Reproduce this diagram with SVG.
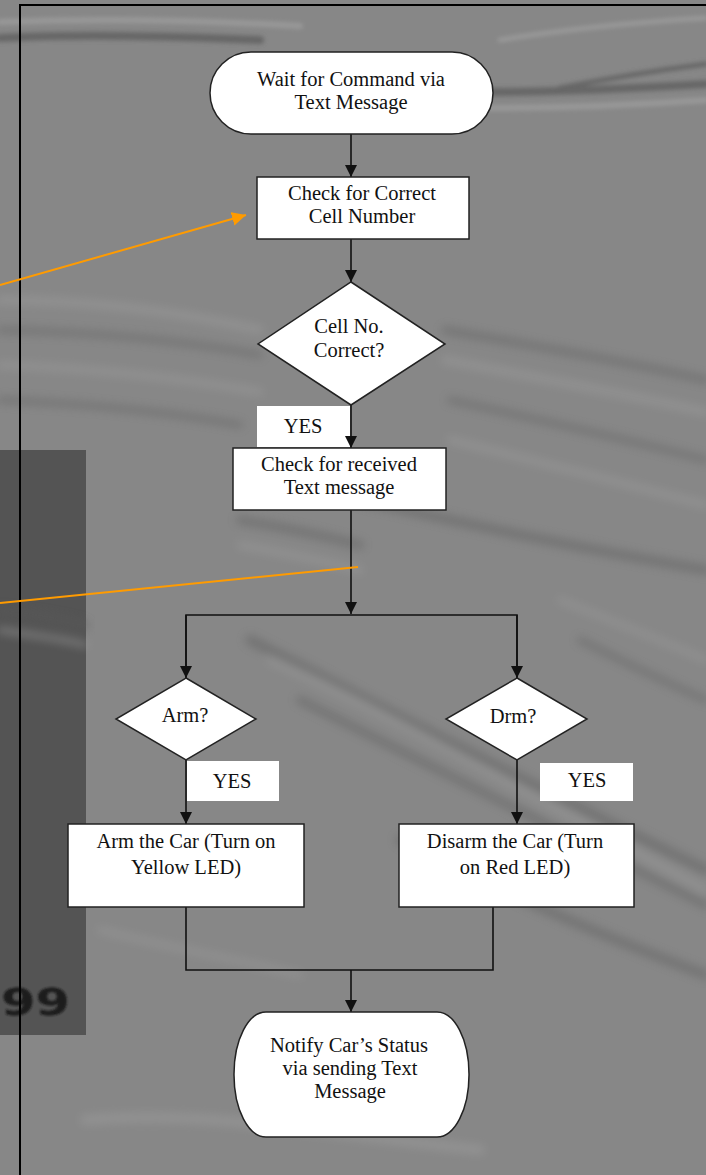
<svg xmlns="http://www.w3.org/2000/svg" width="706" height="1175" viewBox="0 0 706 1175">
<defs>
<style>
.node{fill:#fff;stroke:#222;stroke-width:1.5}
.lbl{fill:#fff;stroke:none}
.t{font-family:"Liberation Serif","Times New Roman",serif;font-size:20.5px;fill:#111;text-anchor:middle}
.c{fill:none;stroke:#111;stroke-width:1.6}
.o{fill:none;stroke:#FF9B00;stroke-width:2}
.sd{fill:none;stroke:#5a5a5a;stroke-linecap:round}
.sl{fill:none;stroke:#a0a0a0;stroke-linecap:round}
</style>
<marker id="ah" viewBox="0 0 10 10" refX="10" refY="5" markerWidth="12" markerHeight="12" markerUnits="userSpaceOnUse" orient="auto">
<path d="M0,0 L10,5 L0,10 z" fill="#111"/>
</marker>
<marker id="oh" viewBox="0 0 10 10" refX="10" refY="5" markerWidth="14" markerHeight="14" markerUnits="userSpaceOnUse" orient="auto">
<path d="M0,0 L10,5 L0,10 z" fill="#FF9B00"/>
</marker>
<filter id="b4" x="-10%" y="-50%" width="120%" height="200%"><feGaussianBlur stdDeviation="5"/></filter>
<filter id="b2" x="-10%" y="-50%" width="120%" height="200%"><feGaussianBlur stdDeviation="2"/></filter>
<filter id="b1"><feGaussianBlur stdDeviation="1"/></filter>
</defs>

<g id="background">
<rect x="0" y="0" width="706" height="1175" fill="#878787"/>
<g filter="url(#b2)" opacity="0.7">
<path class="sd" stroke-width="8" d="M0,38 C80,34 160,36 260,40"/>
<path class="sl" stroke-width="6" d="M0,22 C100,18 200,20 300,26"/>
<path class="sd" stroke-width="8" d="M490,92 C560,92 640,88 706,84"/>
<path class="sd" stroke-width="5" d="M560,88 C610,78 660,70 706,64"/>
<path class="sl" stroke-width="6" d="M490,108 C580,108 650,104 706,100"/>
<path class="sl" stroke-width="5" d="M500,40 C560,30 640,22 706,18"/>
</g>
<g filter="url(#b4)" opacity="0.45">
<path class="sl" stroke-width="8" d="M0,300 C80,300 170,310 260,330"/>
<path class="sd" stroke-width="6" d="M0,330 C90,332 180,340 260,355"/>
<path class="sl" stroke-width="7" d="M0,365 C90,368 180,378 260,392"/>
<path class="sd" stroke-width="6" d="M0,400 C90,404 170,412 240,425"/>
<path class="sd" stroke-width="7" d="M445,330 C530,345 620,360 706,380"/>
<path class="sl" stroke-width="8" d="M445,360 C540,378 630,395 706,412"/>
<path class="sd" stroke-width="6" d="M450,400 C540,420 630,440 706,460"/>
<path class="sl" stroke-width="7" d="M450,440 C540,462 630,485 706,505"/>
<path class="sd" stroke-width="9" d="M360,500 C450,520 560,545 706,570"/>
<path class="sd" stroke-width="8" d="M240,520 C300,530 340,540 360,545"/>
<path class="sl" stroke-width="7" d="M240,545 C300,556 340,565 360,570"/>
<path class="sd" stroke-width="10" d="M250,640 C350,690 480,760 706,870"/>
<path class="sl" stroke-width="7" d="M270,660 C380,710 500,780 706,890"/>
<path class="sd" stroke-width="8" d="M300,700 C400,750 520,810 706,905"/>
<path class="sl" stroke-width="6" d="M560,600 C610,620 660,640 706,660"/>
<path class="sd" stroke-width="6" d="M580,640 C620,660 660,680 706,700"/>
<path class="sd" stroke-width="9" d="M400,840 C480,880 560,920 706,975"/>
<path class="sl" stroke-width="6" d="M100,930 C180,950 240,960 300,975"/>
<path class="sl" stroke-width="10" d="M85,1120 C200,1110 300,1130 480,1150"/>
</g>
<rect x="0" y="450" width="86" height="585" fill="#545454"/>
<g filter="url(#b4)" opacity="0.6">
<path class="sd" stroke="#3a3a3a" stroke-width="6" d="M0,610 C40,615 70,620 86,625"/>
<path class="sl" stroke="#6a6a6a" stroke-width="5" d="M0,630 C40,636 70,640 86,645"/>
</g>
<text x="1" y="1015" font-family="DejaVu Sans" font-weight="bold" font-size="37" fill="#1a1a1a" filter="url(#b1)" textLength="69" lengthAdjust="spacingAndGlyphs">99</text>
<line x1="20" y1="5" x2="20" y2="1175" stroke="#000" stroke-width="2"/>
<line x1="19" y1="5" x2="706" y2="5" stroke="#000" stroke-width="2"/>
</g>

<g id="l-yes1">
<rect class="lbl" x="257" y="406" width="93" height="41"/>
<text class="t" x="303" y="433">YES</text>
</g>

<g id="l-yes2">
<rect class="lbl" x="187" y="761" width="92" height="40"/>
<text class="t" x="232" y="788">YES</text>
</g>

<g id="l-yes3">
<rect class="lbl" x="540" y="763" width="93" height="38"/>
<text class="t" x="587" y="787">YES</text>
</g>

<g id="connectors">
<line class="c" x1="351" y1="134" x2="351" y2="177" marker-end="url(#ah)"/>
<line class="c" x1="351" y1="239" x2="351" y2="282" marker-end="url(#ah)"/>
<line class="c" x1="351" y1="405" x2="351" y2="448" marker-end="url(#ah)"/>
<line class="c" x1="351" y1="510" x2="351" y2="614" marker-end="url(#ah)"/>
<polyline class="c" points="186,678 186,615 517,615 517,678"/>
<line class="c" x1="186" y1="615" x2="186" y2="678" marker-end="url(#ah)"/>
<line class="c" x1="517" y1="615" x2="517" y2="678" marker-end="url(#ah)"/>
<line class="c" x1="186" y1="760" x2="186" y2="824" marker-end="url(#ah)"/>
<line class="c" x1="517" y1="760" x2="517" y2="824" marker-end="url(#ah)"/>
<polyline class="c" points="186,907 186,970 493,970 493,907"/>
<line class="c" x1="351" y1="970" x2="351" y2="1012" marker-end="url(#ah)"/>
<line class="o" x1="0" y1="285" x2="246" y2="215" marker-end="url(#oh)"/>
<line class="o" x1="0" y1="603" x2="358" y2="567"/>
</g>

<g id="n-wait">
<rect class="node" x="210" y="52" width="283" height="82" rx="41" ry="41"/>
<text class="t" x="351" y="86">Wait for Command via</text>
<text class="t" x="351" y="109">Text Message</text>
</g>

<g id="n-check-number">
<rect class="node" x="257" y="177" width="212" height="62"/>
<text class="t" x="362" y="200">Check for Correct</text>
<text class="t" x="362" y="223">Cell Number</text>
</g>

<g id="n-cell-correct">
<polygon class="node" points="351,282 445,344 351,405 258,344"/>
<text class="t" x="349" y="333">Cell No.</text>
<text class="t" x="349" y="357">Correct?</text>
</g>

<g id="n-check-text">
<rect class="node" x="233" y="448" width="213" height="62"/>
<text class="t" x="339" y="471">Check for received</text>
<text class="t" x="339" y="494">Text message</text>
</g>

<g id="n-arm-q">
<polygon class="node" points="186,678 256,719 186,760 116,719"/>
<text class="t" x="185" y="722">Arm?</text>
</g>

<g id="n-drm-q">
<polygon class="node" points="517,678 587,719 517,760 446,719"/>
<text class="t" x="513" y="723">Drm?</text>
</g>

<g id="n-arm">
<rect class="node" x="68" y="824" width="236" height="83"/>
<text class="t" x="186" y="848">Arm the Car (Turn on</text>
<text class="t" x="186" y="874">Yellow LED)</text>
</g>

<g id="n-disarm">
<rect class="node" x="399" y="824" width="235" height="83"/>
<text class="t" x="515" y="848">Disarm the Car (Turn</text>
<text class="t" x="515" y="874">on Red LED)</text>
</g>

<g id="n-notify">
<rect class="node" x="234" y="1012" width="235" height="125" rx="32" ry="62"/>
<text class="t" x="349" y="1052">Notify Car’s Status</text>
<text class="t" x="350" y="1075">via sending Text</text>
<text class="t" x="350" y="1098">Message</text>
</g>
</svg>
